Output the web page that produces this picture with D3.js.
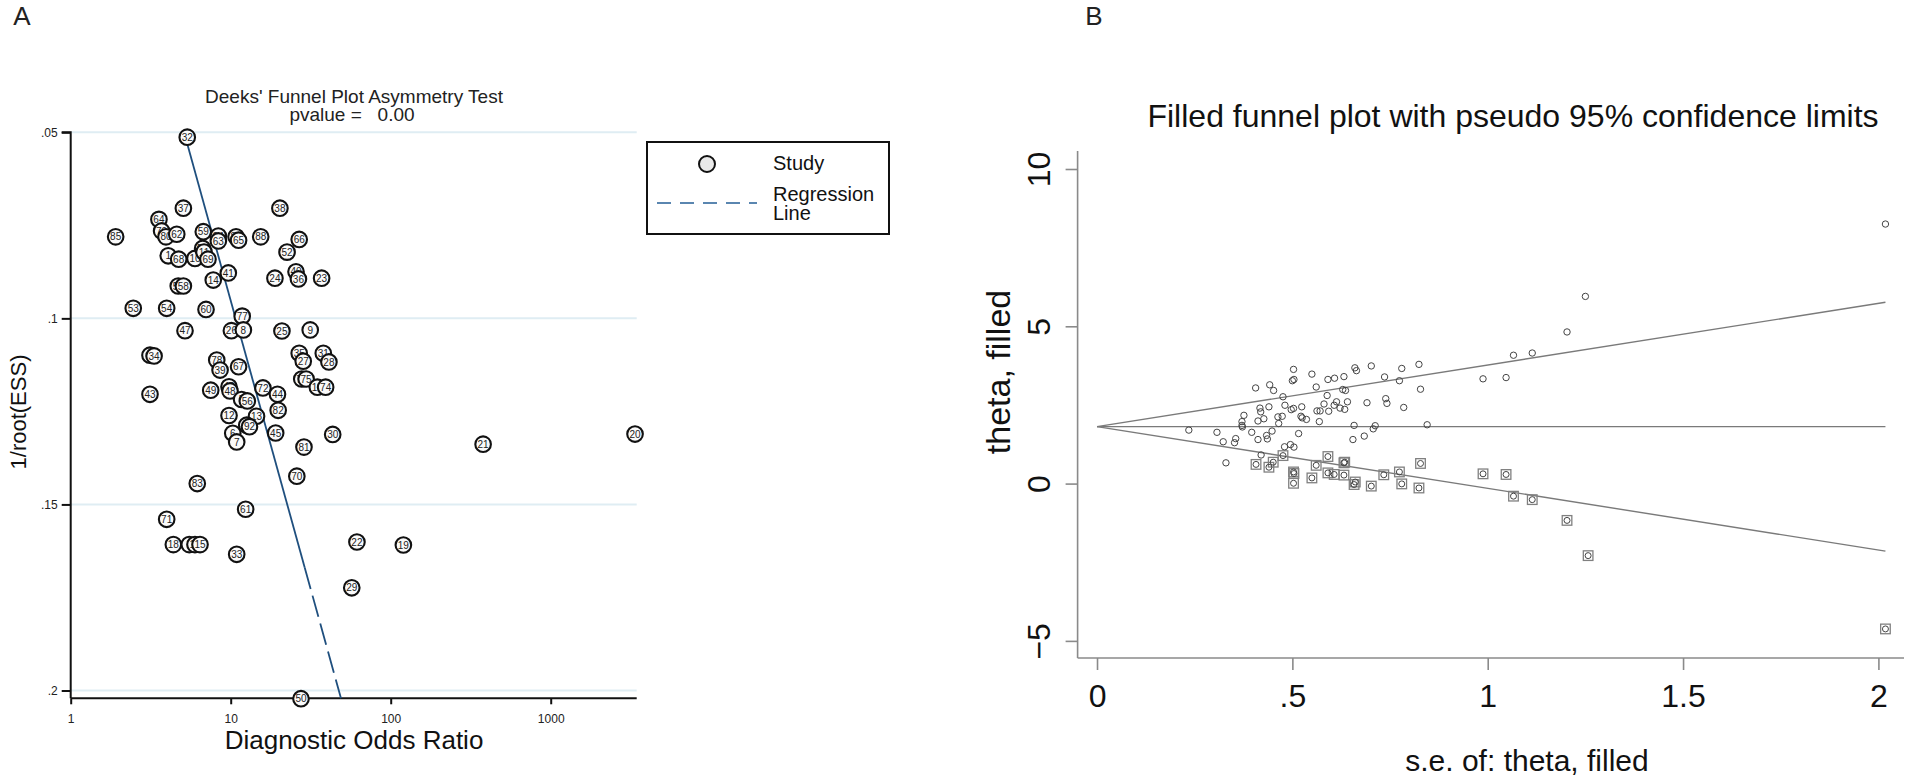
<!DOCTYPE html>
<html><head><meta charset="utf-8">
<script src="https://cdn.jsdelivr.net/npm/d3@7"></script>
<style>html,body{margin:0;padding:0;background:#fff;} svg{display:block;font-family:"Liberation Sans",Arial,Helvetica,sans-serif;}</style>
</head><body>
<svg id="c" width="1908" height="777"></svg>
<script>
// ---------- Panel A: Deeks' funnel plot ----------
const studyLabels = ["32","37","38","64","85","79","80","62","59","84","63","87","65","88","66","52","1","68","10","57","11","69","41","14","24","40","36","23","55","58","53","54","60","77","47","26","8","25","9","2","34","35","27","31","28","78","39","67","43","49","42","48","72","44","76","75","16","74","5","56","82","12","13","4","92","6","7","45","30","81","70","83","61","71","18","3","17","15","33","22","19","29","50","21","20"];
const studyDOR = [5.35,5.06,20.3,3.56,1.91,3.70,3.94,4.60,6.74,8.37,8.37,10.8,11.2,15.4,26.8,22.5,4.07,4.73,5.98,6.68,6.81,7.21,9.66,7.78,18.9,25.6,26.5,37.0,4.70,5.06,2.46,3.98,7.01,11.8,5.18,10.1,12.0,20.9,31.4,3.13,3.32,26.8,28.4,37.9,41.1,8.18,8.58,11.2,3.13,7.50,9.76,9.90,15.9,19.6,27.8,29.6,34.8,39.2,11.7,12.7,19.8,9.76,14.5,12.6,13.1,10.3,10.9,19.1,43.4,28.7,25.9,6.18,12.4,3.98,4.38,5.51,5.98,6.43,10.9,61.5,120,57.1,27.5,378,3365];
const studyInvRootESS = [0.0513,0.0704,0.0704,0.0734,0.0781,0.0765,0.0781,0.0774,0.0767,0.0779,0.0792,0.0781,0.0790,0.0781,0.0788,0.0822,0.0832,0.0841,0.0839,0.0812,0.0822,0.0841,0.0878,0.0897,0.0892,0.0875,0.0894,0.0892,0.0913,0.0913,0.0973,0.0973,0.0976,0.0994,0.1033,0.1033,0.1031,0.1034,0.1031,0.1099,0.1101,0.1094,0.1115,0.1094,0.1117,0.1112,0.1139,0.1130,0.1204,0.1193,0.1184,0.1195,0.1187,0.1204,0.1163,0.1163,0.1185,0.1185,0.1218,0.1222,0.1247,0.1261,0.1263,0.1287,0.1291,0.1309,0.1332,0.1308,0.1312,0.1346,0.1424,0.1444,0.1513,0.1540,0.1608,0.1608,0.1608,0.1608,0.1634,0.1601,0.1609,0.1724,0.2022,0.1338,0.1311];
const regIntercept = 0.386;   // log10(DOR) at 1/root(ESS) = 0
const regSlope = 6.448;       // change in log10(DOR) per unit of 1/root(ESS)
const regSolidEnd = 0.167;    // fitted range (solid) ends here, dashed beyond
const aYTicks = [0.05, 0.1, 0.15, 0.2];
const aYTickLabels = [".05", ".1", ".15", ".2"];
const aXTicks = [1, 10, 100, 1000];
const aXTickLabels = ["1", "10", "100", "1000"];
const aTitle = ["Deeks' Funnel Plot Asymmetry Test", "pvalue =   0.00"];
const legendItems = ["Study", "Regression", "Line"];

// ---------- Panel B: filled funnel plot ----------
const obsSE = [1.203,1.066,1.114,0.988,1.047,0.824,0.780,0.702,0.660,0.664,0.736,0.774,0.828,0.632,0.608,0.591,0.550,0.503,0.504,0.500,0.561,0.629,0.636,0.442,0.452,0.406,0.476,0.589,0.739,0.742,0.785,0.691,0.641,0.613,0.607,0.581,0.622,0.634,0.593,0.571,0.563,0.524,0.503,0.497,0.481,0.440,0.417,0.419,0.376,0.371,0.371,0.372,0.412,0.427,0.463,0.474,0.465,0.522,0.525,0.536,0.569,0.658,0.712,0.845,1.250,2.018,
  0.235,0.307,0.355,0.352,0.323,0.396,0.412,0.434,0.436,0.448,0.516,0.480,0.495,0.504,0.420,0.330,0.655,0.684,0.707];
const obsTheta = [4.82,4.08,4.15,3.33,3.37,3.79,3.66,3.74,3.68,3.59,3.39,3.27,3.00,3.40,3.35,3.31,3.48,3.63,3.31,3.27,3.07,2.99,2.96,3.14,2.96,3.04,2.76,2.80,2.70,2.55,2.42,2.57,2.60,2.60,2.49,2.53,2.40,2.36,2.30,2.31,2.31,2.44,2.39,2.35,2.49,2.44,2.40,2.28,2.17,1.97,1.85,1.80,1.99,2.06,2.12,2.14,1.91,2.14,2.09,2.04,1.97,1.85,1.84,1.87,5.95,8.25,
  1.70,1.63,1.43,1.30,1.33,1.63,1.40,1.53,1.42,1.67,1.59,1.17,1.24,1.16,0.91,0.66,1.40,1.51,1.74];
const fillSE = [0.407,0.440,0.451,0.476,0.503,0.504,0.503,0.550,0.561,0.591,0.591,0.607,0.632,0.634,0.632,0.661,0.658,0.702,0.734,0.774,0.780,0.824,0.828,0.988,1.047,1.066,1.114,1.203,1.257,2.018];
const fillTheta = [0.61,0.52,0.68,0.89,0.37,0.32,0.01,0.18,0.58,0.86,0.34,0.29,0.66,0.68,0.27,0.05,-0.03,-0.08,0.28,0.37,-0.01,-0.14,0.64,0.31,0.29,-0.40,-0.51,-1.17,-2.29,-4.62];
const pooledTheta = 1.81;
const seMax = 2.018;
const bXTicks = [0, 0.5, 1, 1.5, 2];
const bXTickLabels = ["0", ".5", "1", "1.5", "2"];
const bYTicks = [-5, 0, 5, 10];
const bTitle = "Filled funnel plot with pseudo 95% confidence limits";

const svg = d3.select("#c");

// ===== Panel A =====
const ax = d3.scaleLog().domain([1, 3447]).range([70.7, 636.7]);
const ay = d3.scaleLinear().domain([0.05, 0.2021]).range([132.3, 698.3]);
const A = svg.append("g");

A.append("text").attr("x", 22).attr("y", 25).attr("text-anchor", "middle")
  .attr("font-size", 26).attr("fill", "#222").text("A");

// gridlines
A.selectAll(".grid").data(aYTicks).join("line")
  .attr("x1", ax.range()[0]).attr("x2", ax.range()[1])
  .attr("y1", d => ay(d)).attr("y2", d => ay(d))
  .attr("stroke", "#dfedf3").attr("stroke-width", 2);

// y axis
const yAxisA = d3.axisLeft(ay).tickValues(aYTicks).tickFormat((d, i) => aYTickLabels[i]).tickSize(9).tickPadding(4);
const gya = A.append("g").attr("transform", `translate(${ax.range()[0]},0)`).call(yAxisA);
gya.select(".domain").attr("stroke", "#111").attr("stroke-width", 2).attr("d", `M-9,${ay(0.05)}H0V${ay.range()[1]}`);
gya.selectAll(".tick line").attr("stroke", "#111").attr("stroke-width", 2);
gya.selectAll(".tick text").attr("font-size", 12).attr("fill", "#222").attr("font-family", "Liberation Sans, Arial, sans-serif");

// x axis
const xAxisA = d3.axisBottom(ax).tickValues(aXTicks).tickFormat((d, i) => aXTickLabels[i]).tickSize(6).tickPadding(10);
const gxa = A.append("g").attr("transform", `translate(0,${ay.range()[1]})`).call(xAxisA);
gxa.select(".domain").attr("stroke", "#111").attr("stroke-width", 2).attr("d", `M${ax.range()[0]},0H${ax.range()[1]}`);
gxa.selectAll(".tick line").attr("stroke", "#111").attr("stroke-width", 2);
gxa.selectAll(".tick text").attr("font-size", 12).attr("fill", "#222").attr("font-family", "Liberation Sans, Arial, sans-serif");

// axis titles
A.append("text").attr("x", 354).attr("y", 749).attr("text-anchor", "middle")
  .attr("font-size", 26).attr("fill", "#111").text("Diagnostic Odds Ratio");
A.append("text").attr("transform", "translate(26,412) rotate(-90)").attr("text-anchor", "middle")
  .attr("font-size", 22).attr("fill", "#111").text("1/root(ESS)");

// title
A.append("text").attr("x", 354).attr("y", 103).attr("text-anchor", "middle")
  .attr("font-size", 19).attr("fill", "#222").text(aTitle[0]);
A.append("text").attr("x", 352).attr("y", 121).attr("text-anchor", "middle")
  .attr("font-size", 19).attr("fill", "#222").attr("xml:space", "preserve").style("white-space", "pre").text(aTitle[1]);

// regression line
const regDOR = v => Math.pow(10, regIntercept + regSlope * v);
const yStart = 0.0529, yEnd = ay.domain()[1];
const line = d3.line().x(v => ax(regDOR(v))).y(v => ay(v));
A.append("path").attr("d", line([yStart, regSolidEnd])).attr("stroke", "#1f4f7e").attr("stroke-width", 1.8).attr("fill", "none");
A.append("path").attr("d", line([regSolidEnd, yEnd])).attr("stroke", "#1f4f7e").attr("stroke-width", 1.8).attr("fill", "none").attr("stroke-dasharray", "22,7");

// study circles
const studies = studyLabels.map((l, i) => ({ l, d: studyDOR[i], v: studyInvRootESS[i] }));
const sg = A.selectAll(".st").data(studies).join("g").attr("transform", d => `translate(${ax(d.d)},${ay(d.v)})`);
sg.append("circle").attr("r", 7.8).attr("fill", "#fafafa").attr("stroke", "#111").attr("stroke-width", 2.1);
sg.append("text").attr("text-anchor", "middle").attr("dy", "0.36em").attr("font-size", 10).attr("fill", "#222").text(d => d.l);

// legend
const L = A.append("g");
L.append("rect").attr("x", 647).attr("y", 142).attr("width", 242).attr("height", 92)
  .attr("fill", "#fff").attr("stroke", "#111").attr("stroke-width", 2);
L.append("circle").attr("cx", 707).attr("cy", 164).attr("r", 8).attr("fill", "#e9e9e9").attr("stroke", "#111").attr("stroke-width", 2);
L.append("line").attr("x1", 657).attr("x2", 757).attr("y1", 203).attr("y2", 203)
  .attr("stroke", "#5a86b0").attr("stroke-width", 1.8).attr("stroke-dasharray", "14,9");
L.append("text").attr("x", 773).attr("y", 170).attr("font-size", 20).attr("fill", "#111").text(legendItems[0]);
L.append("text").attr("x", 773).attr("y", 201).attr("font-size", 20).attr("fill", "#111").text(legendItems[1]);
L.append("text").attr("x", 773).attr("y", 220).attr("font-size", 20).attr("fill", "#111").text(legendItems[2]);

// ===== Panel B =====
const bx = d3.scaleLinear().domain([-0.0497, 2.0655]).range([1077.6, 1904]);
const by = d3.scaleLinear().domain([-5.544, 10.572]).range([658, 151]);
const B = svg.append("g");

B.append("text").attr("x", 1094).attr("y", 25).attr("text-anchor", "middle")
  .attr("font-size", 26).attr("fill", "#222").text("B");

B.append("text").attr("x", 1513).attr("y", 127).attr("text-anchor", "middle")
  .attr("font-size", 32).attr("fill", "#111").text(bTitle);

const yAxisB = d3.axisLeft(by).tickValues(bYTicks).tickFormat(d3.format("d")).tickSize(12).tickPadding(6);
const gyb = B.append("g").attr("transform", `translate(${bx.range()[0]},0)`).call(yAxisB);
gyb.select(".domain").attr("stroke", "#8a8a8a").attr("stroke-width", 1.6).attr("d", `M0,${by.range()[1]}V${by.range()[0]}`);
gyb.selectAll(".tick line").attr("stroke", "#8a8a8a").attr("stroke-width", 1.6);
gyb.selectAll(".tick text").attr("font-size", 32).attr("fill", "#111").attr("font-family", "Liberation Sans, Arial, sans-serif")
  .attr("x", null).attr("dy", null).attr("text-anchor", "middle").attr("dominant-baseline", "central")
  .attr("transform", "translate(-39,0) rotate(-90)");

const xAxisB = d3.axisBottom(bx).tickValues(bXTicks).tickFormat((d, i) => bXTickLabels[i]).tickSize(12).tickPadding(14);
const gxb = B.append("g").attr("transform", `translate(0,${by.range()[0]})`).call(xAxisB);
gxb.select(".domain").attr("stroke", "#8a8a8a").attr("stroke-width", 1.6).attr("d", `M${bx.range()[0]},0H${bx.range()[1]}`);
gxb.selectAll(".tick line").attr("stroke", "#8a8a8a").attr("stroke-width", 1.6);
gxb.selectAll(".tick text").attr("font-size", 32).attr("fill", "#111").attr("font-family", "Liberation Sans, Arial, sans-serif");

B.append("text").attr("x", 1527).attr("y", 771).attr("text-anchor", "middle")
  .attr("font-size", 30).attr("fill", "#111").text("s.e. of: theta, filled");
B.append("text").attr("transform", "translate(1010,372) rotate(-90)").attr("text-anchor", "middle")
  .attr("font-size", 34).attr("fill", "#111").text("theta, filled");

// funnel lines
const fl = d3.line().x(d => bx(d[0])).y(d => by(d[1]));
[[[0, pooledTheta], [seMax, pooledTheta + 1.96 * seMax]],
 [[0, pooledTheta], [seMax, pooledTheta]],
 [[0, pooledTheta], [seMax, pooledTheta - 1.96 * seMax]]].forEach(seg => {
  B.append("path").attr("d", fl(seg)).attr("stroke", "#7a7a7a").attr("stroke-width", 1.4).attr("fill", "none");
});

// filled studies (squares with inner circle)
const fills = fillSE.map((s, i) => ({ s, t: fillTheta[i] }));
B.selectAll(".fsq").data(fills).join("rect")
  .attr("x", d => bx(d.s) - 4.8).attr("y", d => by(d.t) - 4.8).attr("width", 9.6).attr("height", 9.6)
  .attr("fill", "none").attr("stroke", "#808080").attr("stroke-width", 1.3);
B.selectAll(".fci").data(fills).join("circle")
  .attr("cx", d => bx(d.s)).attr("cy", d => by(d.t)).attr("r", 3)
  .attr("fill", "none").attr("stroke", "#444").attr("stroke-width", 1);

// observed studies
const obs = obsSE.map((s, i) => ({ s, t: obsTheta[i] }));
B.selectAll(".oc").data(obs).join("circle")
  .attr("cx", d => bx(d.s)).attr("cy", d => by(d.t)).attr("r", 3.2)
  .attr("fill", "none").attr("stroke", "#444").attr("stroke-width", 1);
</script>
</body></html>
